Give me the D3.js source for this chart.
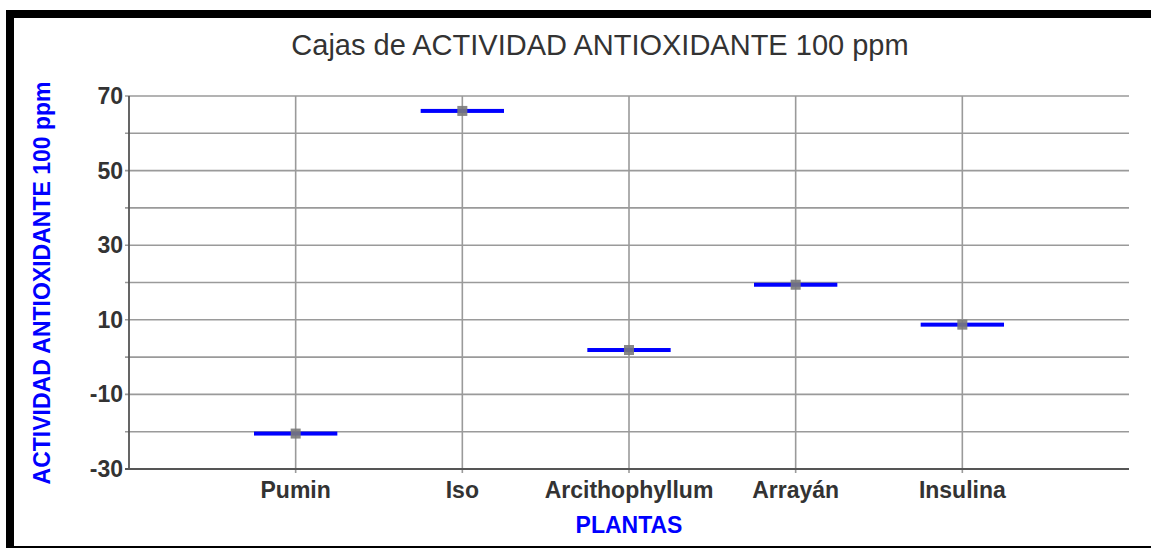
<!DOCTYPE html>
<html>
<head>
<meta charset="utf-8">
<script src="https://cdn.jsdelivr.net/npm/d3@7"></script>
<style>
  body { margin: 0; background: #fff; }
  text { font-family: "Liberation Sans", Arial, sans-serif; }
</style>
</head>
<body>
<svg id="chart" width="1151" height="548"></svg>
<script>
// categorias y valores (cajas colapsadas: una sola linea por planta)
var plantas = ["Pumin", "Iso", "Arcithophyllum", "Arrayán", "Insulina"];
var medianas = [-20.5, 66.0, 1.9, 19.4, 8.7];
var yTickLabels = [-30, -10, 10, 30, 50, 70];
var yGridValues = [-30, -20, -10, 0, 10, 20, 30, 40, 50, 60, 70];

var WIDTH = 1151, HEIGHT = 548;
var MARGINS = { left: 129, right: 22, top: 96, bottom: 79 };

var svg = d3.select("#chart");

// marco negro (solo se ve arriba, izquierda y abajo)
svg.append("rect")
    .attr("x", 10).attr("y", 14)
    .attr("width", 1160).attr("height", 536)
    .attr("fill", "none").attr("stroke", "#000").attr("stroke-width", 8);

var xRange = d3.scaleLinear().domain([0, plantas.length + 1])
    .range([MARGINS.left, WIDTH - MARGINS.right]);
var yRange = d3.scaleLinear().domain([-30, 70])
    .range([HEIGHT - MARGINS.bottom, MARGINS.top]);

var step = xRange(1) - xRange(0);

// rejilla horizontal
svg.append("g").selectAll("line").data(yGridValues).enter().append("line")
    .attr("x1", MARGINS.left - 4).attr("x2", WIDTH - MARGINS.right)
    .attr("y1", function (d) { return yRange(d); })
    .attr("y2", function (d) { return yRange(d); })
    .attr("stroke", "#9a9a9a").attr("stroke-width", 1.6);

// rejilla vertical en cada planta
svg.append("g").selectAll("line").data(plantas).enter().append("line")
    .attr("x1", function (d, i) { return xRange(i + 1); })
    .attr("x2", function (d, i) { return xRange(i + 1); })
    .attr("y1", yRange(70)).attr("y2", yRange(-30) + 4)
    .attr("stroke", "#9a9a9a").attr("stroke-width", 1.6);

// ejes
svg.append("line")
    .attr("x1", MARGINS.left).attr("x2", MARGINS.left)
    .attr("y1", yRange(70)).attr("y2", yRange(-30))
    .attr("stroke", "#555").attr("stroke-width", 1.8);
svg.append("line")
    .attr("x1", MARGINS.left - 4).attr("x2", WIDTH - MARGINS.right)
    .attr("y1", yRange(-30)).attr("y2", yRange(-30))
    .attr("stroke", "#555").attr("stroke-width", 1.8);

// etiquetas eje y
svg.append("g").selectAll("text").data(yTickLabels).enter().append("text")
    .attr("x", MARGINS.left - 6)
    .attr("y", function (d) { return yRange(d) + 8; })
    .attr("text-anchor", "end")
    .attr("font-size", 23).attr("font-weight", "bold").attr("fill", "#333")
    .text(function (d) { return d; });

// etiquetas eje x
svg.append("g").selectAll("text").data(plantas).enter().append("text")
    .attr("x", function (d, i) { return xRange(i + 1); })
    .attr("y", yRange(-30) + 29)
    .attr("text-anchor", "middle")
    .attr("font-size", 23).attr("font-weight", "bold").attr("fill", "#333")
    .text(function (d) { return d; });

// cajas (lineas azules) y marcador gris
var cajas = svg.append("g");
cajas.selectAll("rect.caja").data(medianas).enter().append("rect")
    .attr("class", "caja")
    .attr("x", function (d, i) { return xRange(i + 1) - step * 0.25; })
    .attr("y", function (d) { return yRange(d) - 2; })
    .attr("width", step * 0.5).attr("height", 4)
    .attr("fill", "#0000ff");
cajas.selectAll("rect.media").data(medianas).enter().append("rect")
    .attr("class", "media")
    .attr("x", function (d, i) { return xRange(i + 1) - 5; })
    .attr("y", function (d) { return yRange(d) - 5; })
    .attr("width", 10).attr("height", 10)
    .attr("fill", "#7a7a7a").attr("opacity", 0.9);

// titulo
svg.append("text")
    .attr("x", 600).attr("y", 55)
    .attr("text-anchor", "middle")
    .attr("font-size", 29).attr("fill", "#333")
    .text("Cajas de ACTIVIDAD ANTIOXIDANTE 100 ppm");

// titulos de ejes
svg.append("text")
    .attr("x", (MARGINS.left + WIDTH - MARGINS.right) / 2 + 0)
    .attr("y", 533)
    .attr("text-anchor", "middle")
    .attr("font-size", 23).attr("font-weight", "bold").attr("fill", "#0000ff")
    .text("PLANTAS");

svg.append("text")
    .attr("transform", "translate(50,283) rotate(-90)")
    .attr("text-anchor", "middle")
    .attr("font-size", 23).attr("font-weight", "bold").attr("fill", "#0000ff")
    .text("ACTIVIDAD ANTIOXIDANTE 100 ppm");
</script>
</body>
</html>
